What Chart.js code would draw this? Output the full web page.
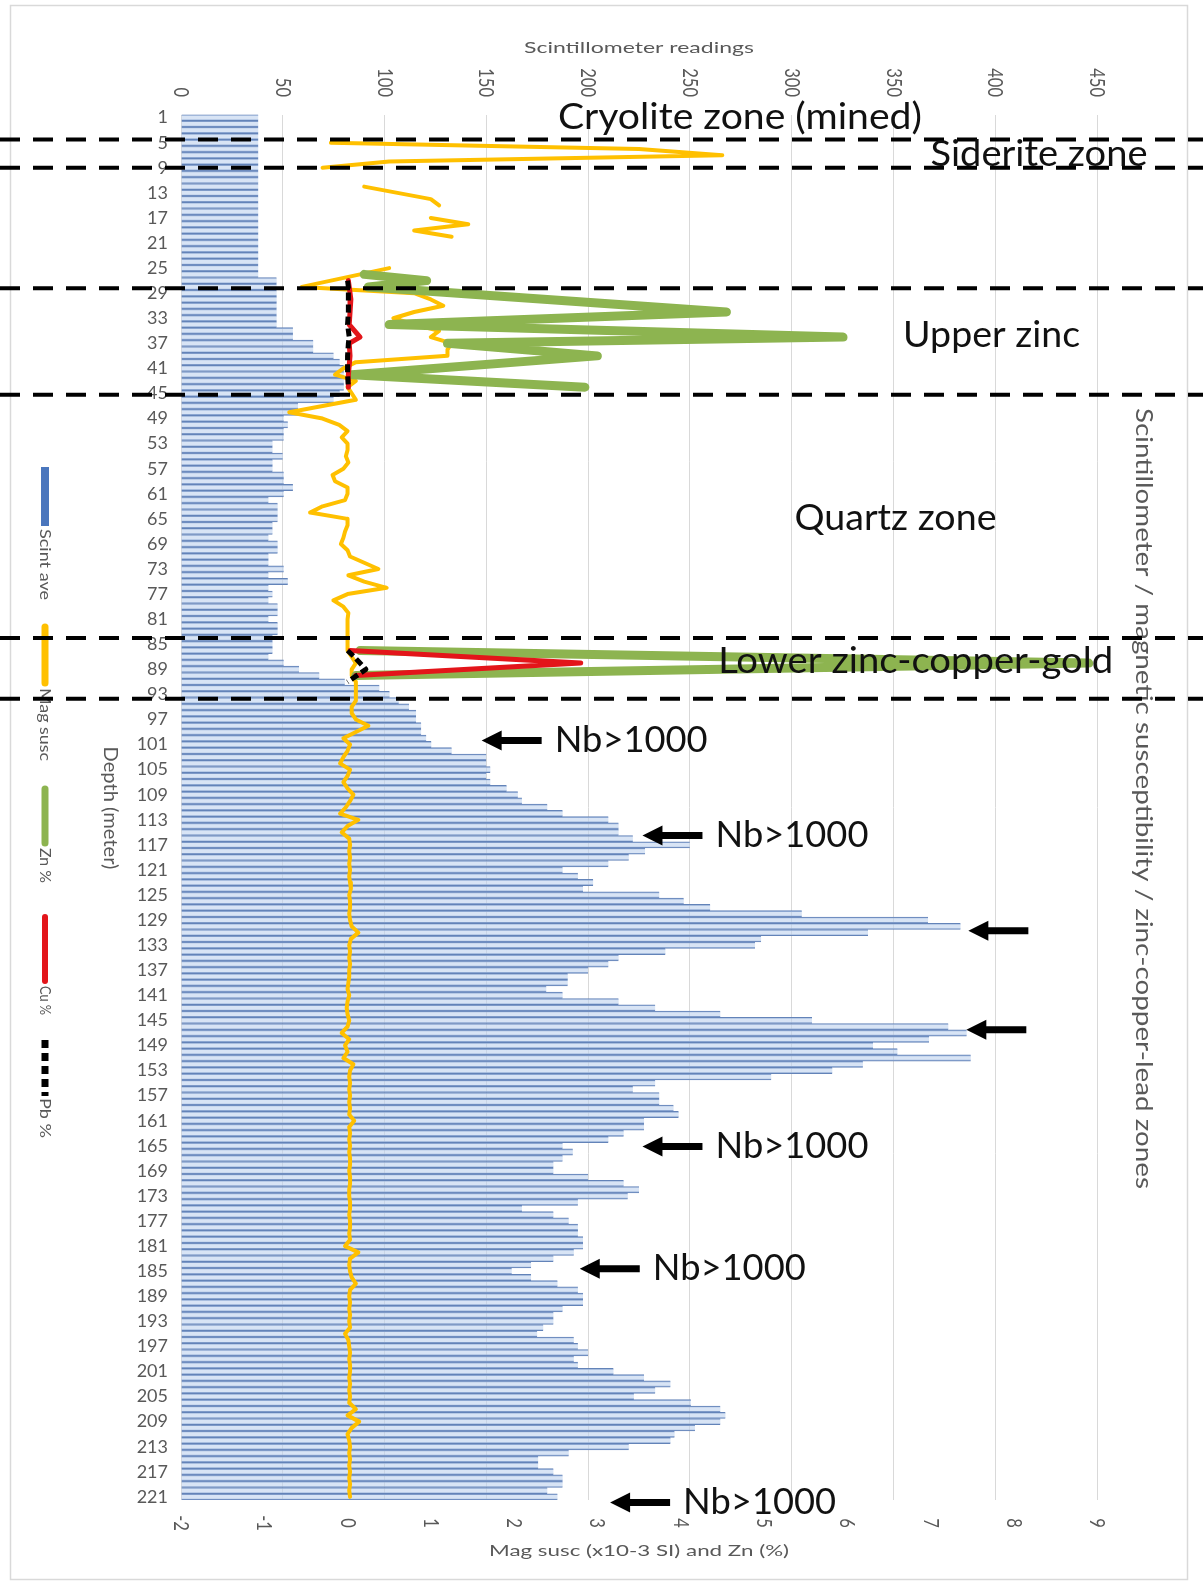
<!DOCTYPE html>
<html><head><meta charset="utf-8">
<script src="https://cdn.jsdelivr.net/npm/chart.js@4.4.1/dist/chart.umd.min.js"></script>
<style>html,body{margin:0;padding:0;background:#fff;}canvas{display:block;}</style>
</head><body>
<canvas id="c" width="1203" height="1587"></canvas>
<script>
// ---------- DATA ----------
const depthLabels = Array.from({length: 221}, (_, i) => String(i + 1)); // depth in metres (categories)
const scintTicks = [0, 50, 100, 150, 200, 250, 300, 350, 400, 450];
const magTicks = [-2, -1, 0, 1, 2, 3, 4, 5, 6, 7, 8, 9];

const scintAve = [
  38,38,38,38,38,38,38,38,38,38,
  38,38,38,38,38,38,38,38,38,38,
  38,38,38,38,38,38,47,47,47,47,
  47,47,47,47,55,55,65,65,75,78,
  80,80,80,80,78,75,57.5,58,50.5,52.5,
  50.5,50.5,45,45,50,45,45,50.5,50.5,55,
  50.5,43,47.5,47.5,47.5,45,45,43,47.5,47.5,
  43,43,50.5,43,52.5,43,45,43,47.5,47.5,
  43,47.5,47.5,45,45,45,43,50.5,58,68,
  80.5,97.5,102.5,107,112,115.5,115.5,118,118,120.5,
  123,133,150,150,152,150,152,160,165.5,167.5,
  180,187.5,210,215,215,222,250,228,220,210,
  187.5,195,202.5,197.5,235,247,260,305,367,383,
  337.5,285,282,238,215,210,200,190,190,179.5,
  187.5,215,233,265,310,377,386,367.5,340,352,
  388,335,320,290,233,222,235,235,242,244.5,
  227.5,227.5,217.5,210,187.5,192.5,187.5,183,183,200,
  217.5,225,219.5,195,167.5,183,190.5,195,195,197.5,
  197.5,193,183,172,162.5,172,185,195,197.5,197.5,
  187.5,183,183,178,175,193,195,200,193,195,
  212.5,227.5,240.5,233,222.5,250.5,265,267.5,265,252.5,
  242.5,240.5,220,190.5,175.5,175.5,183,187.5,187.5,180,
  185
];

const magSusc = [
  null,null,null,null,-0.2,3.5,4.5,0.5,-0.3,null,
  null,0.2,0.6,1.0,1.1,null,1.0,1.45,0.8,1.25,
  null,null,null,null,0.5,0.15,-0.2,-0.55,0.8,1.0,
  1.15,0.8,0.55,0.8,1.1,1.0,1.25,1.2,1.2,0.1,
  -0.05,-0.15,0.1,0.0,0.05,0.1,-0.3,-0.7,-0.3,-0.1,
  0.0,-0.07,0.0,0.0,-0.02,0.01,-0.05,-0.18,-0.15,0.0,
  0.0,-0.03,-0.3,-0.45,0.0,0.0,-0.03,-0.05,-0.08,0.0,
  0.03,0.2,0.37,0.01,0.2,0.47,0.0,-0.17,-0.05,0.01,
  0.0,0.0,0.0,0.0,0.0,0.0,0.05,0.1,0.05,0.05,
  0.1,0.1,0.1,0.1,0.05,0.05,0.1,0.25,0.1,-0.05,
  0.03,0.0,-0.05,-0.09,0.03,0.0,-0.05,0.0,0.07,0.03,
  -0.02,-0.09,0.13,0.0,-0.07,0.02,0.03,0.02,0.03,0.02,
  0.03,0.02,0.03,0.04,0.02,0.03,0.03,0.02,0.03,0.05,
  0.13,0.04,0.02,0.03,0.02,0.03,0.02,0.02,0.01,0.0,
  0.02,0.0,-0.01,0.0,0.02,0.0,-0.07,0.02,-0.03,0.0,
  -0.05,0.07,0.03,0.02,0.03,0.02,0.03,0.02,0.03,0.02,
  0.08,0.02,0.03,0.02,0.03,0.02,0.03,0.03,0.02,0.03,
  0.03,0.02,0.02,0.03,0.03,0.02,0.03,0.03,0.02,0.03,
  -0.03,0.13,0.03,0.02,0.03,0.05,0.1,0.03,0.02,0.03,
  0.02,0.03,0.02,0.03,-0.03,0.01,0.02,0.03,0.02,0.03,
  0.03,0.02,0.03,0.02,0.03,0.02,0.1,0.0,0.14,0.05,
  0.0,0.02,0.03,0.02,0.03,0.02,0.03,0.02,0.03,0.02,
  0.03
];

const znDepths = [26, 27, 28, 32, 34, 36, 37, 39, 42, 44, 86, 88, 90];
const znPct    = [0.2, 0.95, 0.25, 4.55, 0.5, 5.95, 1.2, 3.0, 0.05, 2.85, 0.15, 8.9, 0.1];
const cuDepths = [27, 28, 30, 32, 34, 36, 37, 39, 42, 44, 86, 88, 90];
const cuPct    = [0.01, 0.02, 0.04, 0.03, 0.02, 0.15, 0.02, 0.03, 0.01, 0.01, 0.03, 2.8, 0.1];
const pbDepths = [27, 28, 32, 34, 36, 37, 39, 42, 44, 86, 87, 89, 91];
const pbPct    = [0.0, 0.01, 0.01, 0.0, 0.02, 0.01, 0.0, 0.0, 0.01, 0.0, 0.08, 0.22, 0.0];

// zone boundaries (depth) and zone labels
const zoneBounds = [4.5, 9, 28.2, 45.2, 84, 93.7];
const zoneNames = ['Cryolite zone (mined)', 'Siderite zone', 'Upper zinc', 'Quartz zone', 'Lower zinc-copper-gold'];
const zoneNameScint = [274.6, 421.5, 398.2, 351.0, 360.9];
const zoneNameDepth = [0.96, 6.93, 35.67, 64.85, 87.77];
const zoneNameWidth = [364, 217, 177, 202, 395];

// Nb>1000 arrows
const nbScint = [147.7, 226.7, 386.8, 385.8, 226.7, 195.9, 210.8];
const nbDepth = [100.36, 115.5, 130.7, 146.5, 165.1, 184.6, 221.9];
const nbText  = [true, true, false, false, true, true, true];

const toPts = (d, v) => d.map((dd, i) => ({x: v[i], y: String(dd)}));

// ---------- helpers ----------
function txt(ctx, s, x, y, o) {
  ctx.save();
  ctx.translate(x, y);
  if (o.rot) ctx.rotate(o.rot);
  ctx.font = (o.weight || 'normal') + ' ' + o.size + 'px ' + (o.family || 'Lato');
  let sx = o.sx || 1;
  if (o.width) sx = o.width / ctx.measureText(s).width;
  ctx.scale(sx, o.sy || 1);
  ctx.fillStyle = o.color || '#000';
  ctx.textAlign = o.align || 'center';
  ctx.textBaseline = o.baseline || 'middle';
  ctx.fillText(s, 0, 0);
  ctx.restore();
}

const GRAY = '#595959';
const overlay = {
  id: 'overlay',
  afterDraw(chart) {
    const {ctx, scales} = chart;
    const sx = scales.x, sx2 = scales.x2, sy = scales.y;
    const yOf = d => sy.getPixelForValue(d - 1);
    ctx.save();
    // frame
    ctx.strokeStyle = '#d9d9d9'; ctx.lineWidth = 1.5;
    ctx.strokeRect(10.5, 5.5, 1177, 1574);

    // top / bottom tick labels (rotated clockwise)
    scintTicks.forEach(v => {
      txt(ctx, String(v), sx.getPixelForValue(v), 97, {size: 16.5, color: GRAY, rot: Math.PI / 2, align: 'right', sy: 1.3});
    });
    magTicks.forEach(v => {
      txt(ctx, String(v), sx2.getPixelForValue(v), 1523, {size: 16.5, color: GRAY, rot: Math.PI / 2, align: 'center', sy: 1.3});
    });
    // axis titles
    const cx = (chart.chartArea.left + chart.chartArea.right) / 2;
    txt(ctx, 'Scintillometer readings', cx, 47.5, {size: 16, color: GRAY, width: 230});
    txt(ctx, 'Mag susc (x10-3 SI) and Zn (%)', cx, 1551, {size: 16, color: GRAY, width: 300});
    txt(ctx, 'Depth (meter)', 110, 808, {size: 17, color: GRAY, rot: Math.PI / 2, width: 123, sy: 1.15});
    txt(ctx, 'Scintillometer / magnetic susceptibility / zinc-copper-lead zones', 1144, 798.5, {size: 24, color: GRAY, rot: Math.PI / 2, width: 781});

    // legend (rotated)
    const lx = 45;
    ctx.fillStyle = '#4a76bd'; ctx.fillRect(lx - 4, 467, 8, 59);
    txt(ctx, 'Scint ave', lx, 529, {size: 14, color: GRAY, rot: Math.PI / 2, align: 'left', width: 71, sy: 1.1});
    const seg = (y0, y1, color, w, dash) => {
      ctx.save(); ctx.strokeStyle = color; ctx.lineWidth = w; ctx.lineCap = dash ? 'butt' : 'round';
      if (dash) ctx.setLineDash(dash);
      ctx.beginPath(); ctx.moveTo(lx, y0); ctx.lineTo(lx, y1); ctx.stroke(); ctx.restore();
    };
    seg(627, 683, '#ffc000', 7); txt(ctx, 'Mag susc', lx, 688, {size: 14, color: GRAY, rot: Math.PI / 2, align: 'left', width: 73, sy: 1.1});
    seg(789, 843, '#8db450', 7); txt(ctx, 'Zn %', lx, 848, {size: 14, color: GRAY, rot: Math.PI / 2, align: 'left', width: 35, sy: 1.1});
    seg(917, 981, '#e3151a', 6); txt(ctx, 'Cu %', lx, 986, {size: 14, color: GRAY, rot: Math.PI / 2, align: 'left', width: 29, sy: 1.1});
    seg(1040, 1096, '#000', 7, [8, 5]); txt(ctx, 'Pb %', lx, 1098, {size: 14, color: GRAY, rot: Math.PI / 2, align: 'left', width: 40, sy: 1.1});

    // zone dashed lines
    ctx.save();
    ctx.strokeStyle = '#000'; ctx.lineWidth = 4; ctx.setLineDash([20, 13]);
    zoneBounds.forEach(d => {
      const y = yOf(d);
      ctx.beginPath(); ctx.moveTo(0, y); ctx.lineTo(1203, y); ctx.stroke();
    });
    ctx.restore();
    // zone labels
    zoneNames.forEach((s, i) => {
      txt(ctx, s, sx.getPixelForValue(zoneNameScint[i]), yOf(zoneNameDepth[i]), {size: 36, color: '#111', width: zoneNameWidth[i]});
    });
    // Nb arrows
    nbScint.forEach((v, i) => {
      const x = sx.getPixelForValue(v), y = yOf(nbDepth[i]);
      ctx.fillStyle = '#000';
      ctx.beginPath();
      ctx.moveTo(x, y); ctx.lineTo(x + 20, y - 10); ctx.lineTo(x + 20, y - 3.5);
      ctx.lineTo(x + 60, y - 3.5); ctx.lineTo(x + 60, y + 3.5); ctx.lineTo(x + 20, y + 3.5);
      ctx.lineTo(x + 20, y + 10); ctx.closePath(); ctx.fill();
      if (nbText[i]) txt(ctx, 'Nb>1000', x + 73, y, {size: 36, color: '#111', align: 'left', width: 153});
    });
    ctx.restore();
  }
};

const lineCommon = {type: 'line', xAxisID: 'x2', yAxisID: 'y', indexAxis: 'y', pointRadius: 0,
  borderJoinStyle: 'round', borderCapStyle: 'round', fill: false, tension: 0};

new Chart(document.getElementById('c').getContext('2d'), {
  type: 'bar',
  data: {
    labels: depthLabels,
    datasets: [
      Object.assign({}, lineCommon, {label: 'Pb %', data: toPts(pbDepths, pbPct), borderColor: '#000', borderWidth: 5,
        borderDash: [8, 4], borderCapStyle: 'butt', spanGaps: 10, order: 0}),
      Object.assign({}, lineCommon, {label: 'Cu %', data: toPts(cuDepths, cuPct), borderColor: '#e3151a', borderWidth: 5, spanGaps: 10, order: 1}),
      Object.assign({}, lineCommon, {label: 'Zn %', data: toPts(znDepths, znPct), borderColor: '#8db450', borderWidth: 9, spanGaps: 10, order: 2}),
      Object.assign({}, lineCommon, {label: 'Mag susc', data: magSusc, borderColor: '#ffc000', borderWidth: 4, spanGaps: false, order: 3}),
      {type: 'bar', label: 'Scint ave', data: scintAve, xAxisID: 'x', yAxisID: 'y',
        backgroundColor: 'rgba(190,210,238,0.6)', borderColor: '#6383b8',
        borderWidth: {top: 1, bottom: 1, left: 0, right: 0}, borderSkipped: false,
        barPercentage: 1, categoryPercentage: 1, order: 4}
    ]
  },
  options: {
    indexAxis: 'y', responsive: false, animation: false, devicePixelRatio: 1,
    layout: {padding: {left: 0, right: 106, top: 114.5, bottom: 87}},
    plugins: {legend: {display: false}, tooltip: {enabled: false}},
    scales: {
      x: {type: 'linear', position: 'top', min: 0, max: 450,
        ticks: {stepSize: 50, display: false}, grid: {color: '#d9d9d9', drawTicks: false, lineWidth: 1}, border: {display: false}},
      x2: {type: 'linear', position: 'bottom', min: -2, max: 9,
        ticks: {stepSize: 1, display: false}, grid: {display: false, drawTicks: false}, border: {display: false}},
      y: {type: 'category', position: 'left', offset: true,
        grid: {display: false, drawTicks: false}, border: {display: false},
        ticks: {autoSkip: false, padding: 13, color: GRAY, font: {family: 'Lato', size: 18},
          callback: (v, i) => (i % 4 === 0 ? depthLabels[i] : '')},
        afterFit: s => { s.width = 181; }}
    }
  },
  plugins: [overlay]
});
</script>
</body></html>
